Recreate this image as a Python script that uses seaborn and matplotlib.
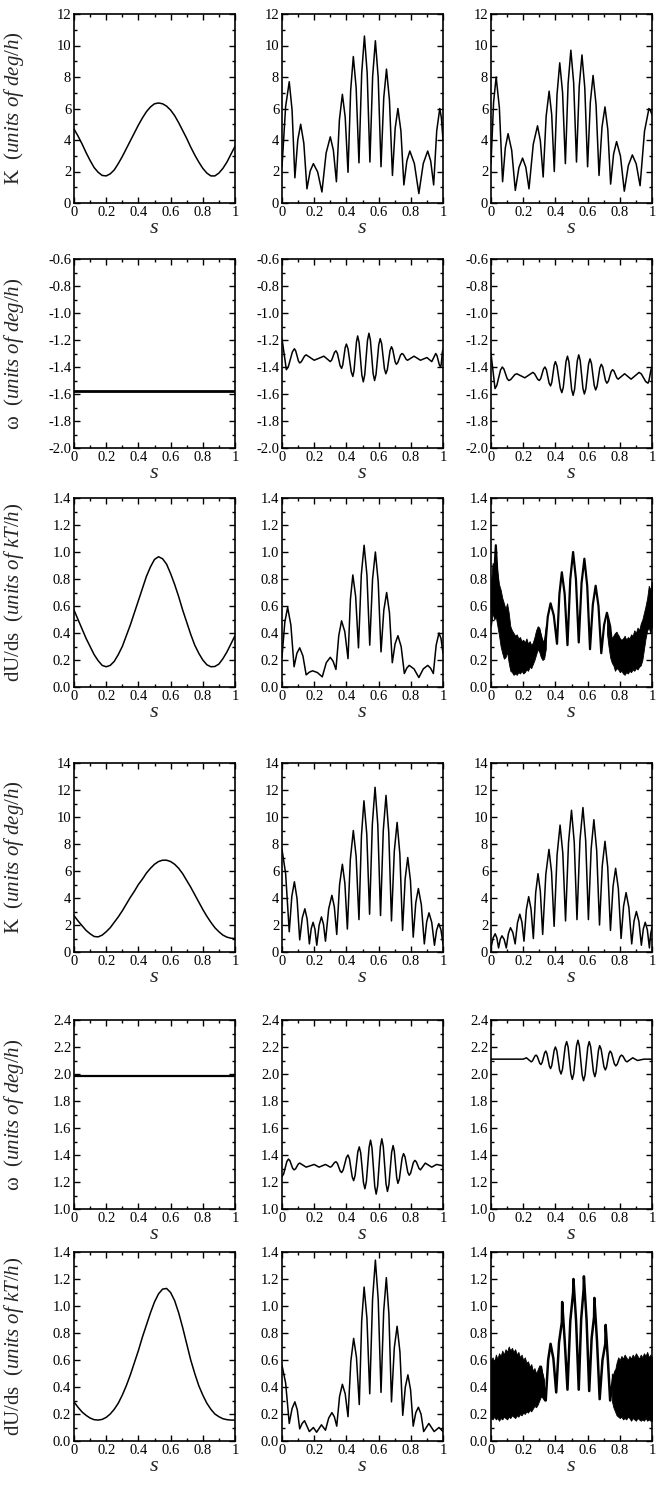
import numpy as np
import matplotlib
matplotlib.use("Agg")
import matplotlib.pyplot as plt
import seaborn as sns
from matplotlib.ticker import MultipleLocator, FuncFormatter

sns.set_theme(style="ticks")
plt.rcParams["font.family"] = ["Liberation Serif", "DejaVu Serif"]
plt.rcParams["mathtext.fontset"] = "custom"
plt.rcParams["mathtext.rm"] = "Liberation Serif"
plt.rcParams["mathtext.it"] = "Liberation Serif:italic"
plt.rcParams["axes.unicode_minus"] = False

# ---------------------------------------------------------------------------
# Data (s in [0, 1])
# ---------------------------------------------------------------------------
S25 = [0, 0.025, 0.05, 0.075, 0.1, 0.125, 0.15, 0.175, 0.2, 0.225, 0.25, 0.275,
       0.3, 0.325, 0.35, 0.375, 0.4, 0.425, 0.45, 0.475, 0.5, 0.525, 0.55, 0.575,
       0.6, 0.625, 0.65, 0.675, 0.7, 0.725, 0.75, 0.775, 0.8, 0.825, 0.85, 0.875,
       0.9, 0.925, 0.95, 0.975, 1.0]

# --- upper group -----------------------------------------------------------
kA_left_v = [4.7, 4.25, 3.75, 3.2, 2.7, 2.25, 1.95, 1.75, 1.72, 1.85, 2.1, 2.5,
             2.95, 3.45, 3.95, 4.45, 4.95, 5.4, 5.8, 6.1, 6.3, 6.35, 6.3, 6.15,
             5.9, 5.55, 5.1, 4.6, 4.1, 3.55, 3.05, 2.6, 2.2, 1.9, 1.72, 1.72,
             1.9, 2.2, 2.6, 3.1, 3.6]

kA_mid_s = [0, 0.0225, 0.045, 0.0625, 0.08, 0.098, 0.116, 0.1355, 0.155, 0.175,
            0.195, 0.2215, 0.248, 0.274, 0.30, 0.319, 0.338, 0.3565, 0.375, 0.3925,
            0.41, 0.4265, 0.443, 0.4605, 0.478, 0.495, 0.512, 0.529, 0.546, 0.563,
            0.58, 0.5975, 0.615, 0.632, 0.649, 0.6675, 0.686, 0.703, 0.72, 0.7385,
            0.757, 0.7755, 0.794, 0.822, 0.85, 0.8775, 0.905, 0.9235, 0.942, 0.961,
            0.98, 0.99, 1.0]
kA_mid_v = [2.3, 6.12, 7.7, 5.91, 1.6, 4.00, 5.0, 3.80, 0.9, 2.03, 2.5, 1.97, 0.7,
            3.17, 4.2, 3.36, 1.35, 5.27, 6.9, 5.45, 1.95, 7.15, 9.3, 7.32, 2.55, 8.24,
            10.6, 8.26, 2.6, 8.04, 10.3, 7.96, 2.3, 6.68, 8.5, 6.52, 1.75, 4.75, 6.0,
            4.58, 1.15, 2.67, 3.3, 2.51, 0.6, 2.51, 3.3, 2.67, 1.15, 4.58, 6.0, 5.41,
            4.0]

kA_right_s = [0, 0.016, 0.032, 0.052, 0.072, 0.089, 0.106, 0.1285, 0.151, 0.1735,
              0.196, 0.216, 0.236, 0.2625, 0.289, 0.3065, 0.324, 0.3425, 0.361, 0.377,
              0.393, 0.41, 0.427, 0.4445, 0.462, 0.479, 0.496, 0.5135, 0.531, 0.548,
              0.565, 0.5825, 0.6, 0.617, 0.634, 0.6525, 0.671, 0.6895, 0.708, 0.7255,
              0.743, 0.7615, 0.78, 0.804, 0.828, 0.853, 0.878, 0.902, 0.926, 0.9535,
              0.981, 0.99, 1.0]
kA_right_v = [2.5, 6.39, 8.0, 6.05, 1.35, 3.51, 4.4, 3.35, 0.8, 2.25, 2.85, 2.28, 0.9,
              3.73, 4.9, 3.95, 1.65, 5.50, 7.1, 5.61, 2.0, 6.88, 8.9, 7.02, 2.5, 7.59,
              9.7, 7.62, 2.6, 7.41, 9.4, 7.32, 2.3, 6.40, 8.1, 6.24, 1.75, 4.83, 6.1,
              4.66, 1.2, 3.11, 3.9, 2.98, 0.75, 2.38, 3.05, 2.48, 1.1, 4.56, 6.0, 5.88,
              5.6]

wA_left_s = [0, 1]
wA_left_v = [-1.58, -1.58]

wA_mid_s = [0, 0.027, 0.0395, 0.0645, 0.077, 0.085, 0.102, 0.11, 0.12, 0.14, 0.15,
            0.2, 0.26, 0.3, 0.309, 0.326, 0.335, 0.344, 0.361, 0.37, 0.3775, 0.3925,
            0.40, 0.41, 0.43, 0.44, 0.4475, 0.4625, 0.47, 0.479, 0.496, 0.505, 0.514,
            0.531, 0.54, 0.549, 0.566, 0.575, 0.584, 0.601, 0.61, 0.619, 0.636, 0.645,
            0.654, 0.671, 0.68, 0.6875, 0.7025, 0.71, 0.719, 0.736, 0.745, 0.754,
            0.771, 0.78, 0.82, 0.86, 0.9, 0.93, 0.955, 0.9625, 0.9775, 0.985, 0.989,
            0.996, 1.0]
wA_mid_v = [-1.19, -1.42, -1.397, -1.288, -1.265, -1.280, -1.355, -1.37, -1.361,
            -1.319, -1.31, -1.35, -1.32, -1.36, -1.348, -1.292, -1.28, -1.299, -1.391,
            -1.41, -1.384, -1.256, -1.23, -1.265, -1.435, -1.47, -1.426, -1.214, -1.17,
            -1.220, -1.460, -1.51, -1.457, -1.203, -1.15, -1.201, -1.449, -1.50,
            -1.455, -1.235, -1.19, -1.228, -1.412, -1.45, -1.421, -1.279, -1.25,
            -1.269, -1.361, -1.38, -1.368, -1.312, -1.30, -1.307, -1.343, -1.35,
            -1.32, -1.35, -1.33, -1.36, -1.30, -1.315, -1.385, -1.40, -1.381, -1.289,
            -1.27]

wA_right_s = [0, 0.025, 0.036, 0.059, 0.07, 0.08, 0.10, 0.11, 0.1225, 0.1475, 0.16,
              0.21, 0.26, 0.27, 0.29, 0.30, 0.309, 0.326, 0.335, 0.344, 0.361, 0.37,
              0.3775, 0.3925, 0.40, 0.41, 0.43, 0.44, 0.449, 0.466, 0.475, 0.484,
              0.501, 0.51, 0.519, 0.536, 0.545, 0.554, 0.571, 0.58, 0.589, 0.606,
              0.615, 0.624, 0.641, 0.65, 0.659, 0.676, 0.685, 0.694, 0.711, 0.72,
              0.729, 0.746, 0.755, 0.764, 0.781, 0.79, 0.83, 0.87, 0.92, 0.934, 0.961,
              0.975, 0.981, 0.994, 1.0]
wA_right_v = [-1.30, -1.56, -1.537, -1.423, -1.40, -1.415, -1.485, -1.50, -1.493,
              -1.457, -1.45, -1.48, -1.44, -1.449, -1.491, -1.50, -1.485, -1.415,
              -1.40, -1.420, -1.520, -1.54, -1.514, -1.386, -1.36, -1.394, -1.556,
              -1.59, -1.551, -1.359, -1.32, -1.362, -1.568, -1.61, -1.566, -1.354,
              -1.31, -1.352, -1.558, -1.60, -1.562, -1.378, -1.34, -1.374, -1.536,
              -1.57, -1.542, -1.408, -1.38, -1.400, -1.500, -1.52, -1.505, -1.435,
              -1.42, -1.430, -1.480, -1.49, -1.45, -1.49, -1.44, -1.452, -1.508,
              -1.52, -1.502, -1.418, -1.40]

uA_left_v = [0.57, 0.5, 0.43, 0.36, 0.3, 0.24, 0.195, 0.16, 0.15, 0.16, 0.19, 0.24,
             0.3, 0.38, 0.46, 0.55, 0.64, 0.73, 0.82, 0.89, 0.945, 0.965, 0.95, 0.91,
             0.84, 0.76, 0.67, 0.57, 0.48, 0.39, 0.31, 0.25, 0.2, 0.165, 0.15, 0.152,
             0.17, 0.21, 0.26, 0.32, 0.38]

uA_mid_s = [0, 0.0175, 0.035, 0.055, 0.075, 0.0925, 0.11, 0.13, 0.15, 0.17, 0.19,
            0.22, 0.25, 0.275, 0.30, 0.3175, 0.335, 0.3525, 0.37, 0.39, 0.41, 0.425,
            0.44, 0.4575, 0.475, 0.4925, 0.51, 0.5275, 0.545, 0.5625, 0.58, 0.5975,
            0.615, 0.6325, 0.65, 0.6675, 0.685, 0.7025, 0.72, 0.74, 0.76, 0.775, 0.79,
            0.82, 0.85, 0.8775, 0.905, 0.9225, 0.94, 0.9575, 0.975, 0.9875, 1.0]
uA_mid_v = [0.22, 0.48, 0.59, 0.46, 0.15, 0.25, 0.29, 0.23, 0.09, 0.11, 0.12, 0.107,
            0.075, 0.18, 0.22, 0.19, 0.13, 0.38, 0.49, 0.41, 0.21, 0.65, 0.83, 0.67,
            0.29, 0.83, 1.05, 0.83, 0.31, 0.80, 1.0, 0.78, 0.26, 0.57, 0.70, 0.55,
            0.18, 0.32, 0.38, 0.30, 0.10, 0.14, 0.16, 0.134, 0.07, 0.134, 0.16, 0.14,
            0.10, 0.31, 0.40, 0.36, 0.25]

uA_right_s = [0, 0.015, 0.03, 0.05, 0.075, 0.1, 0.12, 0.15, 0.19, 0.25, 0.3, 0.335,
              0.3525, 0.37, 0.39, 0.41, 0.425, 0.44, 0.4575, 0.475, 0.4925, 0.51,
              0.5275, 0.545, 0.5625, 0.58, 0.5975, 0.615, 0.6325, 0.65, 0.6675, 0.685,
              0.7025, 0.72, 0.74, 0.76, 0.79, 0.85, 0.9, 0.94, 0.975, 1.0]
uA_right_v = [0.6, 0.7, 1.05, 0.6, 0.4, 0.55, 0.33, 0.24, 0.22, 0.23, 0.42, 0.27,
              0.52, 0.62, 0.53, 0.32, 0.69, 0.85, 0.69, 0.31, 0.80, 1.0, 0.80, 0.33,
              0.77, 0.95, 0.75, 0.28, 0.61, 0.75, 0.60, 0.25, 0.46, 0.55, 0.45, 0.22,
              0.38, 0.2, 0.26, 0.3, 0.58, 0.55]
# noisy band (left part, right part)
uA_band1_s = [0.0, 0.01, 0.02, 0.03, 0.04, 0.05, 0.06, 0.07, 0.08, 0.09, 0.10, 0.11,
              0.12, 0.13, 0.14, 0.15, 0.16, 0.17, 0.18, 0.19, 0.20, 0.21, 0.22, 0.23,
              0.24, 0.25, 0.26, 0.27, 0.28, 0.29, 0.30, 0.31, 0.32, 0.33, 0.34]
uA_band1_hi = [0.78, 0.92, 0.88, 0.96, 0.85, 0.76, 0.72, 0.66, 0.62, 0.58, 0.62, 0.55,
               0.45, 0.42, 0.40, 0.38, 0.39, 0.36, 0.37, 0.34, 0.35, 0.33, 0.36, 0.32,
               0.34, 0.31, 0.33, 0.37, 0.42, 0.45, 0.44, 0.38, 0.33, 0.36, 0.45]
uA_band1_lo = [0.45, 0.55, 0.50, 0.52, 0.45, 0.38, 0.30, 0.25, 0.21, 0.22, 0.26, 0.18,
               0.12, 0.11, 0.09, 0.10, 0.09, 0.11, 0.10, 0.12, 0.10, 0.11, 0.13, 0.12,
               0.15, 0.14, 0.17, 0.20, 0.24, 0.28, 0.26, 0.22, 0.20, 0.21, 0.28]
uA_band2_s = [0.72, 0.73, 0.74, 0.75, 0.76, 0.77, 0.78, 0.79, 0.80, 0.81, 0.82, 0.83,
              0.84, 0.85, 0.86, 0.87, 0.88, 0.89, 0.90, 0.91, 0.92, 0.93, 0.94, 0.95,
              0.96, 0.97, 0.98, 0.99, 1.00]
uA_band2_hi = [0.52, 0.45, 0.40, 0.36, 0.38, 0.40, 0.41, 0.38, 0.36, 0.35, 0.36, 0.38,
               0.35, 0.37, 0.36, 0.39, 0.38, 0.42, 0.40, 0.44, 0.42, 0.47, 0.50, 0.55,
               0.60, 0.66, 0.75, 0.72, 0.78]
uA_band2_lo = [0.40, 0.30, 0.22, 0.18, 0.16, 0.12, 0.14, 0.13, 0.11, 0.12, 0.10, 0.09,
               0.11, 0.10, 0.12, 0.11, 0.13, 0.12, 0.14, 0.13, 0.15, 0.16, 0.20, 0.28,
               0.36, 0.42, 0.44, 0.40, 0.45]

# --- lower group -----------------------------------------------------------
kB_left_v = [2.7, 2.3, 1.95, 1.6, 1.35, 1.15, 1.12, 1.25, 1.5, 1.8, 2.2, 2.6, 3.05,
             3.55, 4.05, 4.5, 5.0, 5.4, 5.85, 6.2, 6.5, 6.7, 6.8, 6.8, 6.7, 6.5, 6.2,
             5.8, 5.3, 4.8, 4.25, 3.7, 3.15, 2.65, 2.2, 1.8, 1.5, 1.25, 1.1, 1.02, 1.0]

kB_mid_s = [0, 0.0225, 0.045, 0.061, 0.077, 0.0935, 0.11, 0.126, 0.142, 0.156, 0.17,
            0.1815, 0.193, 0.2045, 0.216, 0.2305, 0.245, 0.2575, 0.27, 0.29, 0.31,
            0.325, 0.34, 0.3575, 0.375, 0.3905, 0.406, 0.4245, 0.443, 0.4605, 0.478,
            0.4935, 0.509, 0.5265, 0.544, 0.561, 0.578, 0.595, 0.612, 0.629, 0.646,
            0.663, 0.68, 0.6975, 0.715, 0.732, 0.749, 0.765, 0.781, 0.798, 0.815,
            0.831, 0.847, 0.8655, 0.884, 0.8985, 0.913, 0.93, 0.947, 0.9605, 0.974,
            0.987, 1.0]
kB_mid_v = [7.6, 5.81, 1.5, 4.12, 5.2, 3.94, 0.9, 2.53, 3.2, 2.44, 0.6, 1.73, 2.2,
            1.70, 0.5, 1.98, 2.6, 2.07, 0.8, 3.20, 4.2, 3.35, 1.3, 4.98, 6.5, 5.09,
            1.7, 6.86, 9.0, 7.07, 2.4, 8.62, 11.2, 8.74, 2.8, 9.45, 12.2, 9.42, 2.7,
            8.99, 11.6, 8.88, 2.3, 7.46, 9.6, 7.26, 1.6, 5.42, 7.0, 5.27, 1.1, 3.65,
            4.7, 3.50, 0.6, 2.23, 2.9, 2.20, 0.5, 1.63, 2.1, 1.66, 0.6]

kB_right_s = [0, 0.013, 0.026, 0.0365, 0.047, 0.0575, 0.068, 0.0815, 0.095, 0.108,
              0.121, 0.1355, 0.15, 0.1645, 0.179, 0.192, 0.205, 0.2195, 0.234, 0.2485,
              0.263, 0.2775, 0.292, 0.3065, 0.321, 0.3405, 0.36, 0.376, 0.392, 0.4105,
              0.429, 0.446, 0.463, 0.4815, 0.5, 0.517, 0.534, 0.5525, 0.571, 0.588,
              0.605, 0.622, 0.639, 0.6565, 0.674, 0.691, 0.708, 0.725, 0.742, 0.758,
              0.774, 0.791, 0.808, 0.8235, 0.839, 0.8565, 0.874, 0.8885, 0.903,
              0.9185, 0.934, 0.946, 0.958, 0.971, 0.984, 0.992, 1.0]
kB_right_v = [0.3, 1.04, 1.35, 1.04, 0.3, 0.94, 1.2, 0.94, 0.3, 1.36, 1.8, 1.45, 0.6,
              2.16, 2.8, 2.21, 0.8, 3.13, 4.1, 3.19, 1.0, 4.39, 5.8, 4.48, 1.3, 5.75,
              7.6, 5.93, 1.9, 7.20, 9.4, 7.32, 2.3, 8.10, 10.5, 8.13, 2.4, 8.27, 10.7,
              8.27, 2.4, 7.63, 9.8, 7.51, 2.0, 6.38, 8.2, 6.27, 1.6, 4.85, 6.2, 4.68,
              1.0, 3.40, 4.4, 3.29, 0.6, 2.30, 3.0, 2.27, 0.5, 1.70, 2.2, 1.64, 0.3,
              1.36, 1.8]

wB_left_s = [0, 1]
wB_left_v = [1.985, 1.985]

wB_mid_s = [0, 0.01, 0.03, 0.04, 0.049, 0.066, 0.075, 0.084, 0.101, 0.11, 0.15, 0.2,
            0.23, 0.27, 0.3, 0.309, 0.326, 0.335, 0.344, 0.361, 0.37, 0.38, 0.40,
            0.41, 0.419, 0.436, 0.445, 0.454, 0.471, 0.48, 0.489, 0.506, 0.515,
            0.524, 0.541, 0.55, 0.559, 0.576, 0.585, 0.594, 0.611, 0.62, 0.629, 0.646,
            0.655, 0.664, 0.681, 0.69, 0.6975, 0.7125, 0.72, 0.729, 0.746, 0.755,
            0.764, 0.781, 0.79, 0.799, 0.816, 0.825, 0.834, 0.851, 0.86, 0.89, 0.93,
            0.96, 1.0]
wB_mid_v = [1.24, 1.259, 1.351, 1.37, 1.358, 1.302, 1.29, 1.297, 1.333, 1.34, 1.31,
            1.33, 1.31, 1.33, 1.31, 1.316, 1.344, 1.35, 1.338, 1.282, 1.27, 1.289,
            1.381, 1.40, 1.372, 1.238, 1.21, 1.247, 1.424, 1.46, 1.415, 1.195, 1.15,
            1.203, 1.457, 1.51, 1.452, 1.168, 1.11, 1.170, 1.460, 1.52, 1.463, 1.187,
            1.13, 1.180, 1.420, 1.47, 1.429, 1.231, 1.19, 1.222, 1.378, 1.41, 1.387,
            1.273, 1.25, 1.266, 1.344, 1.36, 1.350, 1.300, 1.29, 1.34, 1.31, 1.33,
            1.32]

wB_right_s = [0, 0.1, 0.2, 0.22, 0.25, 0.2575, 0.2725, 0.28, 0.2875, 0.3025, 0.31,
              0.3175, 0.3325, 0.34, 0.3475, 0.3625, 0.37, 0.3775, 0.3925, 0.40, 0.409,
              0.426, 0.435, 0.444, 0.461, 0.47, 0.479, 0.496, 0.505, 0.514, 0.531,
              0.54, 0.549, 0.566, 0.575, 0.584, 0.601, 0.61, 0.619, 0.636, 0.645,
              0.6525, 0.6675, 0.675, 0.684, 0.701, 0.71, 0.7175, 0.7325, 0.74, 0.749,
              0.766, 0.775, 0.784, 0.801, 0.81, 0.819, 0.836, 0.845, 0.88, 0.91, 0.95,
              1.0]
wB_right_v = [2.11, 2.11, 2.11, 2.12, 2.09, 2.097, 2.133, 2.14, 2.130, 2.080, 2.07,
              2.085, 2.155, 2.17, 2.151, 2.059, 2.04, 2.063, 2.177, 2.20, 2.171, 2.029,
              2.00, 2.035, 2.205, 2.24, 2.199, 2.001, 1.96, 2.002, 2.208, 2.25, 2.206,
              1.994, 1.95, 1.992, 2.198, 2.24, 2.202, 2.018, 1.98, 2.014, 2.176, 2.21,
              2.184, 2.056, 2.03, 2.050, 2.150, 2.17, 2.154, 2.076, 2.06, 2.072, 2.128,
              2.14, 2.133, 2.097, 2.09, 2.12, 2.10, 2.11, 2.11]

uB_left_v = [0.29, 0.25, 0.215, 0.19, 0.17, 0.158, 0.155, 0.16, 0.175, 0.2, 0.235,
             0.28, 0.34, 0.41, 0.49, 0.58, 0.67, 0.77, 0.86, 0.95, 1.03, 1.09, 1.125,
             1.13, 1.1, 1.04, 0.95, 0.84, 0.72, 0.6, 0.5, 0.41, 0.34, 0.28, 0.235,
             0.2, 0.18, 0.165, 0.158, 0.155, 0.155]

uB_mid_s = [0, 0.0225, 0.045, 0.0625, 0.08, 0.095, 0.11, 0.125, 0.14, 0.17, 0.195,
            0.215, 0.245, 0.27, 0.29, 0.31, 0.325, 0.34, 0.3575, 0.375, 0.3925, 0.41,
            0.4275, 0.445, 0.4625, 0.48, 0.495, 0.51, 0.5275, 0.545, 0.5625, 0.58,
            0.5975, 0.615, 0.6315, 0.648, 0.664, 0.68, 0.6975, 0.715, 0.7325, 0.75,
            0.766, 0.782, 0.7985, 0.815, 0.831, 0.847, 0.8635, 0.88, 0.912, 0.945,
            0.975, 1.0]
uB_mid_v = [0.56, 0.43, 0.13, 0.24, 0.29, 0.23, 0.09, 0.13, 0.15, 0.07, 0.10, 0.065,
            0.12, 0.08, 0.17, 0.21, 0.18, 0.11, 0.33, 0.42, 0.35, 0.18, 0.59, 0.76,
            0.62, 0.27, 0.89, 1.14, 0.91, 0.35, 1.05, 1.34, 1.05, 0.36, 0.96, 1.21,
            0.94, 0.29, 0.69, 0.85, 0.66, 0.19, 0.40, 0.49, 0.38, 0.11, 0.21, 0.25,
            0.20, 0.07, 0.13, 0.07, 0.10, 0.07]

uB_right_s = [0.3, 0.31, 0.34, 0.355, 0.37, 0.3875, 0.405, 0.4225, 0.44, 0.442,
              0.4585, 0.475, 0.4925, 0.51, 0.512, 0.5285, 0.545, 0.56, 0.575, 0.577,
              0.5935, 0.61, 0.625, 0.64, 0.642, 0.6585, 0.675, 0.6925, 0.71, 0.712,
              0.726, 0.74, 0.7575, 0.775, 0.8]
uB_right_v = [0.45, 0.55, 0.3, 0.60, 0.72, 0.61, 0.36, 0.73, 0.88, 1.03, 0.73, 0.38,
              0.89, 1.1, 1.2, 0.89, 0.38, 0.90, 1.12, 1.22, 0.90, 0.37, 0.76, 0.92,
              1.06, 0.74, 0.31, 0.60, 0.72, 0.86, 0.60, 0.3, 0.46, 0.52, 0.42]
uB_band1_s = [0.0, 0.01, 0.02, 0.03, 0.04, 0.05, 0.06, 0.07, 0.08, 0.09, 0.10, 0.11,
              0.12, 0.13, 0.14, 0.15, 0.16, 0.17, 0.18, 0.19, 0.20, 0.21, 0.22, 0.23,
              0.24, 0.25, 0.26, 0.27, 0.28, 0.29, 0.30, 0.31, 0.32, 0.33]
uB_band1_hi = [0.60, 0.62, 0.58, 0.64, 0.61, 0.65, 0.63, 0.67, 0.64, 0.68, 0.66, 0.70,
               0.67, 0.69, 0.66, 0.68, 0.64, 0.66, 0.62, 0.64, 0.60, 0.62, 0.58, 0.59,
               0.55, 0.57, 0.52, 0.54, 0.50, 0.53, 0.56, 0.55, 0.50, 0.45]
uB_band1_lo = [0.17, 0.16, 0.18, 0.16, 0.17, 0.15, 0.17, 0.16, 0.18, 0.17, 0.16, 0.18,
               0.17, 0.19, 0.18, 0.17, 0.19, 0.18, 0.20, 0.19, 0.21, 0.20, 0.22, 0.21,
               0.23, 0.22, 0.24, 0.26, 0.25, 0.27, 0.30, 0.33, 0.32, 0.30]
uB_band2_s = [0.75, 0.76, 0.77, 0.78, 0.79, 0.80, 0.81, 0.82, 0.83, 0.84, 0.85, 0.86,
              0.87, 0.88, 0.89, 0.90, 0.91, 0.92, 0.93, 0.94, 0.95, 0.96, 0.97, 0.98,
              0.99, 1.00]
uB_band2_hi = [0.50, 0.46, 0.52, 0.58, 0.62, 0.60, 0.63, 0.61, 0.64, 0.62, 0.60, 0.63,
               0.61, 0.64, 0.62, 0.65, 0.63, 0.61, 0.64, 0.62, 0.65, 0.63, 0.66, 0.62,
               0.64, 0.62]
uB_band2_lo = [0.30, 0.25, 0.22, 0.19, 0.18, 0.17, 0.18, 0.16, 0.17, 0.16, 0.18, 0.17,
               0.15, 0.17, 0.16, 0.15, 0.17, 0.16, 0.15, 0.16, 0.15, 0.17, 0.15, 0.16,
               0.15, 0.15]

# ---------------------------------------------------------------------------
# Row settings
# ---------------------------------------------------------------------------
K_LABEL = r"K  $\mathit{(units\ of\ deg/h)}$"
W_LABEL = r"ω  $\mathit{(units\ of\ deg/h)}$"
U_LABEL = r"dU/ds  $\mathit{(units\ of\ kT/h)}$"

# each panel: (s, values, line width, noisy bands)
rows = [
    dict(ylim=(0, 12), major=2, minor=1, label=K_LABEL, fmt="{:.0f}",
         panels=[(S25, kA_left_v, 1.1, []), (kA_mid_s, kA_mid_v, 1.1, []),
                 (kA_right_s, kA_right_v, 1.1, [])]),
    dict(ylim=(-2.0, -0.6), major=0.2, minor=0.1, label=W_LABEL, fmt="{:.1f}",
         panels=[(wA_left_s, wA_left_v, 2.0, []), (wA_mid_s, wA_mid_v, 1.1, []),
                 (wA_right_s, wA_right_v, 1.1, [])]),
    dict(ylim=(0, 1.4), major=0.2, minor=0.1, label=U_LABEL, fmt="{:.1f}",
         panels=[(S25, uA_left_v, 1.1, []), (uA_mid_s, uA_mid_v, 1.1, []),
                 (uA_right_s, uA_right_v, 1.6,
                  [(uA_band1_s, uA_band1_lo, uA_band1_hi),
                   (uA_band2_s, uA_band2_lo, uA_band2_hi)])]),
    dict(ylim=(0, 14), major=2, minor=1, label=K_LABEL, fmt="{:.0f}",
         panels=[(S25, kB_left_v, 1.1, []), (kB_mid_s, kB_mid_v, 1.1, []),
                 (kB_right_s, kB_right_v, 1.1, [])]),
    dict(ylim=(1.0, 2.4), major=0.2, minor=0.1, label=W_LABEL, fmt="{:.1f}",
         panels=[(wB_left_s, wB_left_v, 1.6, []), (wB_mid_s, wB_mid_v, 1.1, []),
                 (wB_right_s, wB_right_v, 1.1, [])]),
    dict(ylim=(0, 1.4), major=0.2, minor=0.1, label=U_LABEL, fmt="{:.1f}",
         panels=[(S25, uB_left_v, 1.1, []), (uB_mid_s, uB_mid_v, 1.1, []),
                 (uB_right_s, uB_right_v, 1.8,
                  [(uB_band1_s, uB_band1_lo, uB_band1_hi),
                   (uB_band2_s, uB_band2_lo, uB_band2_hi)])]),
]

# layout in pixels (figure is 661 x 1489)
W_PX, H_PX = 661, 1489
COL_X = [74, 282, 491]
ROW_TOP = [14, 259, 498, 763, 1020, 1252]
AX_W, AX_H = 161, 189

fig = plt.figure(figsize=(W_PX / 100, H_PX / 100), dpi=100)

for r, row in enumerate(rows):
    for c, (s, v, lw, bands) in enumerate(row["panels"]):
        ax = fig.add_axes([COL_X[c] / W_PX, 1 - (ROW_TOP[r] + AX_H) / H_PX,
                           AX_W / W_PX, AX_H / H_PX])
        for bs, blo, bhi in bands:
            ax.fill_between(bs, blo, bhi, color="black", lw=0.6, edgecolor="black")
        sns.lineplot(x=s, y=v, ax=ax, color="black", lw=lw, estimator=None)

        ax.set_xlim(0, 1)
        ax.set_ylim(*row["ylim"])
        ax.xaxis.set_major_locator(MultipleLocator(0.2))
        ax.xaxis.set_minor_locator(MultipleLocator(0.1))
        ax.yaxis.set_major_locator(MultipleLocator(row["major"]))
        ax.yaxis.set_minor_locator(MultipleLocator(row["minor"]))
        ax.xaxis.set_major_formatter(FuncFormatter(lambda x, _: f"{x:g}"))
        fmt = row["fmt"]
        ax.yaxis.set_major_formatter(FuncFormatter(lambda y, _, f=fmt: f.format(y)))
        ax.tick_params(which="both", direction="in", top=True, right=True,
                       labelsize=10.5, pad=2, width=1, colors="black")
        ax.tick_params(which="major", length=4)
        ax.tick_params(which="minor", length=2.5)
        for sp in ax.spines.values():
            sp.set_linewidth(1.2)
            sp.set_color("black")

        ax.set_xlabel("s", fontsize=16, fontstyle="italic", labelpad=0)
        if c == 0:
            ax.set_ylabel(row["label"], fontsize=15)
            ax.yaxis.set_label_coords(-0.3, 0.5)
        else:
            ax.set_ylabel("")

fig.savefig("out.png", dpi=100)
